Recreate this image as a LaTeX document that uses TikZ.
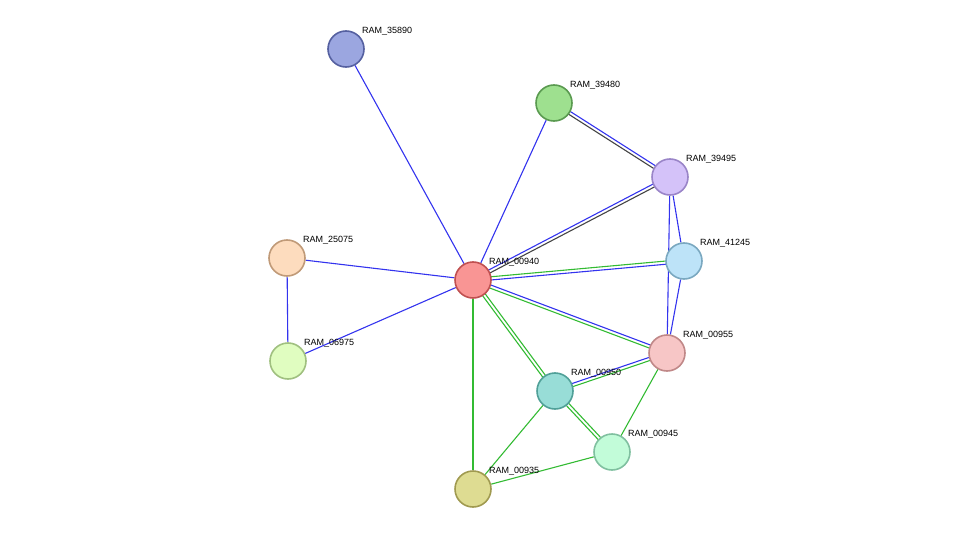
\documentclass[tikz,border=0pt]{standalone}
\usepackage{fontspec}
\setmainfont{Liberation Sans}
\usetikzlibrary{calc,backgrounds}
\definecolor{eb}{HTML}{3333EE}
\definecolor{eg}{HTML}{33BB33}
\definecolor{ek}{HTML}{444444}
\definecolor{f1}{HTML}{9BA6E0}\definecolor{b1}{HTML}{5560A0}
\definecolor{f2}{HTML}{9EE08F}\definecolor{b2}{HTML}{5A9A50}
\definecolor{f3}{HTML}{D4C2F9}\definecolor{b3}{HTML}{9A85C8}
\definecolor{f4}{HTML}{BDE3F8}\definecolor{b4}{HTML}{7AA8C0}
\definecolor{f5}{HTML}{FDDCBE}\definecolor{b5}{HTML}{C09A78}
\definecolor{f6}{HTML}{F99594}\definecolor{b6}{HTML}{C05050}
\definecolor{f7}{HTML}{E0FDC0}\definecolor{b7}{HTML}{A0C080}
\definecolor{f8}{HTML}{F7C6C6}\definecolor{b8}{HTML}{C08888}
\definecolor{f9}{HTML}{98DDD7}\definecolor{b9}{HTML}{50A098}
\definecolor{f10}{HTML}{C2FCD9}\definecolor{b10}{HTML}{80C0A0}
\definecolor{f11}{HTML}{DEDC92}\definecolor{b11}{HTML}{A09A50}
\newcommand{\dbl}[4]{%
 \draw[e,#3] ($(#1)!1.6pt!90:(#2)$) -- ($(#2)!1.6pt!-90:(#1)$);
 \draw[e,#4] ($(#1)!1.6pt!-90:(#2)$) -- ($(#2)!1.6pt!90:(#1)$);}
\begin{document}
\begin{tikzpicture}[x=1pt,y=-1pt,
 prot/.style={circle,minimum size=36pt,inner sep=0pt,line width=1.6pt},
 lab/.style={font=\fontsize{9}{10}\selectfont,anchor=south west,inner sep=1pt},
 e/.style={line width=1.1pt}]
\useasboundingbox (0,0) rectangle (975,535);
\foreach \n/\x/\y/\t in {1/346/49/35890,2/554/103/39480,3/670/177/39495,4/684/261/41245,5/287/258/25075,6/473/280/00940,7/288/361/06975,8/667/353/00955,9/555/391/00950,10/612/452/00945,11/473/489/00935}{
 \node[prot,fill=f\n,draw=b\n] (n\n) at (\x,\y) {};
 \node[lab] (l\n) at (\x+15,\y-13) {RAM\_\t};
}
\begin{scope}[on background layer]
\draw[e,eb] (n1) -- (n6);
\draw[e,eb] (n2) -- (n6);
\dbl{n2}{n3}{eb}{ek}
\dbl{n6}{n3}{eb}{ek}
\dbl{n6}{n4}{eg}{eb}
\dbl{n6}{n8}{eb}{eg}
\dbl{n6}{n9}{eg}{eg}
\draw[e,eg] (n6) -- (n11);
\draw[e,eb] (n6) -- (n5);
\draw[e,eb] (n6) -- (n7);
\draw[e,eb] (n5) -- (n7);
\draw[e,eb] (n3) -- (n4);
\draw[e,eb] (n3) -- (n8);
\draw[e,eb] (n4) -- (n8);
\dbl{n8}{n9}{eg}{eb}
\draw[e,eg] (n8) -- (n10);
\dbl{n9}{n10}{eg}{eg}
\draw[e,eg] (n9) -- (n11);
\draw[e,eg] (n10) -- (n11);
\end{scope}
\end{tikzpicture}
\end{document}
